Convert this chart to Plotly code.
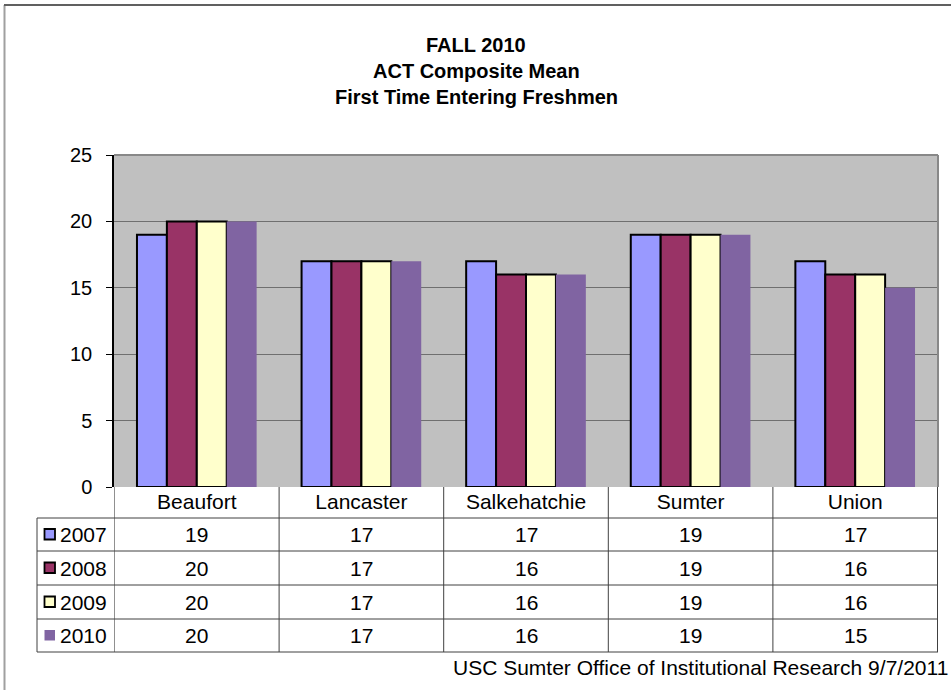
import plotly.graph_objects as go

campuses = ["Beaufort", "Lancaster", "Salkehatchie", "Sumter", "Union"]
years = ["2007", "2008", "2009", "2010"]
v2007 = [19, 17, 17, 19, 17]
v2008 = [20, 17, 16, 19, 16]
v2009 = [20, 17, 16, 19, 16]
v2010 = [20, 17, 16, 19, 15]
series = [v2007, v2008, v2009, v2010]
colors = ["#9999FF", "#993366", "#FFFFCC", "#8064A2"]
outlined = [True, True, True, False]
y_ticks = [0, 5, 10, 15, 20, 25]

W, H = 951, 690
L, R, T, B = 114, 938, 155, 487
FONT = "Liberation Sans, Arial, sans-serif"


def px(x):
    return (x - L) / (R - L)


def py(y):
    return (B - y) / (B - T)


fig = go.Figure()
for name, vals, col, ol in zip(years, series, colors, outlined):
    fig.add_trace(go.Bar(
        x=campuses, y=vals, name=name,
        marker=dict(color=col, line=dict(color="black", width=2 if ol else 0)),
    ))

shapes = []
annotations = []

# plot area border top/right
shapes.append(dict(type="line", xref="paper", yref="paper", x0=0, x1=1, y0=1, y1=1,
                   line=dict(color="#888888", width=2)))
shapes.append(dict(type="line", xref="paper", yref="paper", x0=1, x1=1, y0=0, y1=1,
                   line=dict(color="#888888", width=2)))

# outer chart border
shapes.append(dict(type="line", xref="paper", yref="paper", x0=px(4.5), x1=px(4.5), y0=py(5), y1=py(700),
                   line=dict(color="#a0a0a0", width=2)))
shapes.append(dict(type="line", xref="paper", yref="paper", x0=px(4), x1=px(960), y0=py(5), y1=py(5),
                   line=dict(color="#606060", width=2)))

row_lines = [518, 551, 585, 619, 652]
tcol = "#404040"
# table vertical lines at category boundaries
for i in range(len(campuses) + 1):
    shapes.append(dict(type="line", xref="x", yref="paper", x0=i - 0.5, x1=i - 0.5,
                       y0=py(487), y1=py(652),
                       line=dict(color="#909090" if i == 0 else tcol, width=1)))
# legend column left line
shapes.append(dict(type="line", xref="paper", yref="paper", x0=px(37), x1=px(37),
                   y0=py(518), y1=py(652), line=dict(color=tcol, width=1)))
for ry in row_lines:
    shapes.append(dict(type="line", xref="paper", yref="paper", x0=px(37), x1=1,
                       y0=py(ry), y1=py(ry), line=dict(color=tcol, width=1)))

# rows
for r, (name, vals, col, ol) in enumerate(zip(years, series, colors, outlined)):
    top, bot = row_lines[r], row_lines[r + 1]
    cy = (top + bot) / 2
    shapes.append(dict(type="rect", xref="paper", yref="paper",
                       x0=px(44.5), x1=px(55), y0=py(cy - 5.5), y1=py(cy + 5),
                       fillcolor=col, line=dict(color="black", width=1.8 if ol else 0)))
    annotations.append(dict(text=name, xref="paper", yref="paper", x=px(58), y=py(cy),
                            xanchor="left", yanchor="middle", showarrow=False,
                            font=dict(size=21, color="black", family=FONT)))
    for c, v in zip(campuses, vals):
        annotations.append(dict(text=str(v), xref="x", yref="paper", x=c, y=py(cy),
                                xanchor="center", yanchor="middle", showarrow=False,
                                font=dict(size=21, color="black", family=FONT)))

# footer
annotations.append(dict(text="USC Sumter Office of Institutional Research 9/7/2011",
                        xref="paper", yref="paper", x=px(950), y=py(667),
                        xanchor="right", yanchor="middle", showarrow=False,
                        font=dict(size=21, color="black", family=FONT)))

# title
for line, yc in zip(["FALL 2010", "ACT Composite Mean", "First Time Entering Freshmen"], [45, 71, 97]):
    annotations.append(dict(text="<b>" + line + "</b>", xref="paper", yref="paper",
                            x=px(476), y=py(yc), xanchor="center", yanchor="middle",
                            showarrow=False, font=dict(size=20, color="black", family=FONT)))

fig.update_layout(
    width=W, height=H,
    margin=dict(l=L, r=W - R, t=T, b=H - B, pad=0),
    paper_bgcolor="white", plot_bgcolor="#C0C0C0",
    barmode="group", bargap=0.273, bargroupgap=0,
    showlegend=False,
    font=dict(family=FONT, color="black"),
    shapes=shapes, annotations=annotations,
)
fig.update_xaxes(type="category", showgrid=False, showline=False, ticks="",
                 tickfont=dict(size=21, color="black", family=FONT), fixedrange=True)
fig.update_yaxes(range=[0, 25], tickvals=y_ticks, showgrid=True, gridcolor="#6f6f6f", gridwidth=1,
                 showline=True, linecolor="black", linewidth=1.5, ticks="outside", ticklen=6,
                 tickcolor="black", tickfont=dict(size=20, color="black", family=FONT),
                 ticklabelstandoff=10, zeroline=False, fixedrange=True)

fig.write_html("out.html", config={"displayModeBar": False},
               post_script="document.body.style.margin='0';document.body.style.padding='0';")
